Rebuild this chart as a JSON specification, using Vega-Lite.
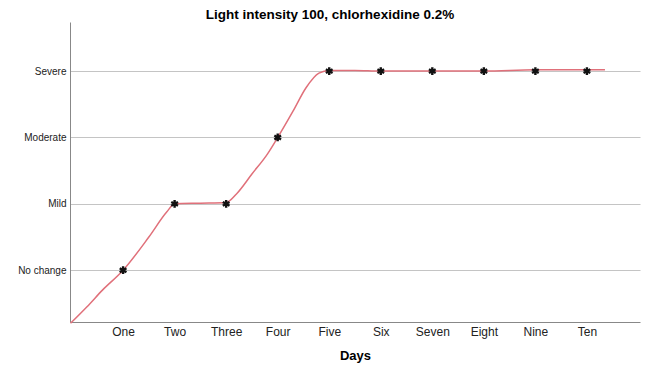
{
  "$schema": "https://vega.github.io/schema/vega-lite/v6.json",
  "autosize": {"type": "none"},
  "padding": {"left": 70, "top": 22, "right": 17, "bottom": 59},
  "width": 570,
  "height": 300,
  "background": "white",
  "title": {"text": "Light intensity 100, chlorhexidine 0.2%", "font": "Liberation Sans", "fontSize": 13.5, "fontWeight": "bold", "color": "#000000", "anchor": "middle", "dx": -25, "offset": 1},
  "config": {"view": {"stroke": null}, "font": "Liberation Sans"},
  "datasets": {
    "points": [
      {"day": 1, "score": 1}, {"day": 2, "score": 2}, {"day": 3, "score": 2}, {"day": 4, "score": 3}, {"day": 5, "score": 4},
      {"day": 6, "score": 4}, {"day": 7, "score": 4}, {"day": 8, "score": 4}, {"day": 9, "score": 4}, {"day": 10, "score": 4}
    ],
    "fit": [
      {"day": -0.02, "score": 0.2}, {"day": 0.3, "score": 0.45}, {"day": 0.6, "score": 0.7}, {"day": 1.0, "score": 1.0},
      {"day": 1.5, "score": 1.5}, {"day": 1.85, "score": 1.88}, {"day": 2.0, "score": 2.0}, {"day": 2.5, "score": 2.01},
      {"day": 3.0, "score": 2.02}, {"day": 3.2, "score": 2.15}, {"day": 3.5, "score": 2.45}, {"day": 3.8, "score": 2.75},
      {"day": 4.0, "score": 3.0}, {"day": 4.3, "score": 3.4}, {"day": 4.55, "score": 3.75}, {"day": 4.8, "score": 3.97},
      {"day": 5.0, "score": 4.01}, {"day": 5.5, "score": 4.01}, {"day": 6.0, "score": 4.0}, {"day": 7.0, "score": 4.0},
      {"day": 8.0, "score": 4.0}, {"day": 9.0, "score": 4.02}, {"day": 10.0, "score": 4.02}, {"day": 10.35, "score": 4.02}
    ]
  },
  "encoding": {
    "x": {"field": "day", "type": "quantitative", "scale": {"domain": [-0.03, 11.03], "nice": false, "zero": false},
      "axis": {"title": "Days", "titleFontSize": 13, "titleFontWeight": "bold", "titleColor": "#000", "titlePadding": 12,
        "values": [1,2,3,4,5,6,7,8,9,10], "labelExpr": "['','One','Two','Three','Four','Five','Six','Seven','Eight','Nine','Ten'][datum.value]",
        "ticks": false, "grid": false, "domainColor": "#888888", "labelFontSize": 12, "labelColor": "#222", "labelPadding": 4}},
    "y": {"field": "score", "type": "quantitative", "scale": {"domain": [0.22, 4.74], "nice": false, "zero": false},
      "axis": {"title": null, "values": [1,2,3,4], "labelExpr": "['','No change','Mild','Moderate','Severe'][datum.value]",
        "ticks": false, "grid": true, "gridColor": "#c4c4c4", "gridWidth": 1.2, "domainColor": "#888888", "labelFontSize": 10, "labelColor": "#222", "labelPadding": 4}}
  },
  "layer": [
    {"data": {"name": "fit"}, "mark": {"type": "line", "color": "#e0707a", "strokeWidth": 1.5, "interpolate": "monotone"}},
    {"data": {"name": "points"}, "mark": {"type": "point", "shape": "M0,-1L0,1M-0.87,-0.5L0.87,0.5M-0.87,0.5L0.87,-0.5", "filled": false, "stroke": "#111111", "strokeWidth": 2.4, "size": 60, "opacity": 1}}
  ]
}
